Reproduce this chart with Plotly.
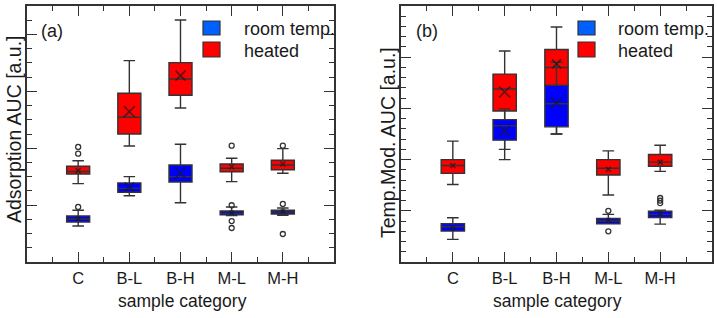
import plotly.graph_objects as go

# ---------------- data ----------------
CATS = ["C", "B-L", "B-H", "M-L", "M-H"]
SERIES = ["room temp.", "heated"]

# panel (a): Adsorption AUC (arbitrary units)
A_HEAT_LOWER = [5.51, 8.16, 10.83, 5.65, 6.24]
A_HEAT_Q1 = [6.19, 9.00, 11.72, 6.35, 6.49]
A_HEAT_MED = [6.36, 10.18, 12.87, 6.59, 6.82]
A_HEAT_Q3 = [6.73, 11.86, 14.02, 6.89, 7.15]
A_HEAT_UPPER = [7.12, 14.16, 17.02, 7.29, 7.97]
A_HEAT_MEAN = [6.42, 10.57, 13.10, 6.70, 6.89]
A_HEAT_OUT_CAT = ["C", "C", "M-L", "M-H"]
A_HEAT_OUT_VAL = [8.09, 7.62, 8.18, 8.18]

A_ROOM_LOWER = [2.53, 4.66, 4.17, 3.26, 3.28]
A_ROOM_Q1 = [2.81, 4.90, 5.63, 3.31, 3.38]
A_ROOM_MED = [3.02, 5.18, 6.00, 3.42, 3.52]
A_ROOM_Q3 = [3.23, 5.56, 6.82, 3.59, 3.64]
A_ROOM_UPPER = [3.64, 6.00, 8.28, 3.87, 3.80]
A_ROOM_MEAN = [3.07, 5.27, 6.24, 3.47, 3.56]
A_ROOM_OUT_CAT = ["C", "M-L", "M-L", "M-L", "M-H", "M-H"]
A_ROOM_OUT_VAL = [3.87, 3.99, 2.88, 2.39, 4.08, 1.97]

# panel (b): Temp.Mod. AUC (arbitrary units)
B_HEAT_LOWER = [1.515, 2.00, 2.50, 1.31, 1.77]
B_HEAT_Q1 = [1.73, 2.95, 3.45, 1.70, 1.87]
B_HEAT_MED = [1.885, 3.38, 3.80, 1.83, 1.95]
B_HEAT_Q3 = [2.00, 3.67, 4.15, 2.00, 2.10]
B_HEAT_UPPER = [2.36, 4.12, 4.59, 2.17, 2.28]
B_HEAT_MEAN = [1.885, 3.32, 3.87, 1.81, 1.95]
B_HEAT_OUT_CAT = []
B_HEAT_OUT_VAL = []

B_ROOM_LOWER = [0.442, 2.20, 2.50, 0.745, 0.74]
B_ROOM_Q1 = [0.604, 2.38, 2.64, 0.747, 0.87]
B_ROOM_MED = [0.688, 2.66, 3.09, 0.80, 0.93]
B_ROOM_Q3 = [0.747, 2.78, 3.45, 0.85, 0.99]
B_ROOM_UPPER = [0.864, 2.99, 3.90, 0.93, 1.01]
B_ROOM_MEAN = [0.657, 2.56, 3.11, 0.82, 0.95]
B_ROOM_OUT_CAT = ["M-L", "M-L", "M-H", "M-H", "M-H"]
B_ROOM_OUT_VAL = [1.00, 0.60, 1.25, 1.20, 1.15]

# ---------------- style ----------------
W, H = 717, 318
FONT = "Liberation Sans, Arial, sans-serif"
EDGE = "#333333"
MARK = "#1a1a1a"
TXT = "#1a1a1a"
RED = "#ff0000"
BLUE = "#0000ff"
BLUE_LEG = "#0060ff"
BOXW = 0.45
A_HEAT_XSIZE = [5, 11, 10, 5, 5]
A_ROOM_XSIZE = [4, 9, 11, 4, 4]
B_HEAT_XSIZE = [5, 11, 9, 5, 5]
B_ROOM_XSIZE = [4, 10, 11, 4, 4]

pos = {c: i for i, c in enumerate(CATS)}

fig = go.Figure()


def add_group(ax, ay, lo, q1, med, q3, up, mean, ocat, oval, fill, xsize, name):
    xs = list(range(len(CATS)))
    fig.add_trace(go.Box(
        x=xs, lowerfence=lo, q1=q1, median=med, q3=q3, upperfence=up,
        xaxis=ax, yaxis=ay, name=name, width=BOXW, whiskerwidth=0.5,
        fillcolor=fill, line=dict(color=EDGE, width=1.4),
        boxpoints=False, showlegend=False, hoverinfo="skip"))
    fig.add_trace(go.Scatter(
        x=xs, y=mean, xaxis=ax, yaxis=ay, mode="markers", showlegend=False,
        marker=dict(symbol="x-thin-open", size=xsize, color=MARK,
                    line=dict(color=MARK, width=1.6)), hoverinfo="skip"))
    if ocat:
        fig.add_trace(go.Scatter(
            x=[pos[c] for c in ocat], y=oval, xaxis=ax, yaxis=ay, mode="markers",
            showlegend=False,
            marker=dict(symbol="circle-open", size=5, color=EDGE,
                        line=dict(color=EDGE, width=1.3)), hoverinfo="skip"))


add_group("x", "y", A_HEAT_LOWER, A_HEAT_Q1, A_HEAT_MED, A_HEAT_Q3, A_HEAT_UPPER,
          A_HEAT_MEAN, A_HEAT_OUT_CAT, A_HEAT_OUT_VAL, RED, A_HEAT_XSIZE, SERIES[1])
add_group("x", "y", A_ROOM_LOWER, A_ROOM_Q1, A_ROOM_MED, A_ROOM_Q3, A_ROOM_UPPER,
          A_ROOM_MEAN, A_ROOM_OUT_CAT, A_ROOM_OUT_VAL, BLUE, A_ROOM_XSIZE, SERIES[0])
add_group("x2", "y2", B_HEAT_LOWER, B_HEAT_Q1, B_HEAT_MED, B_HEAT_Q3, B_HEAT_UPPER,
          B_HEAT_MEAN, B_HEAT_OUT_CAT, B_HEAT_OUT_VAL, RED, B_HEAT_XSIZE, SERIES[1])
add_group("x2", "y2", B_ROOM_LOWER, B_ROOM_Q1, B_ROOM_MED, B_ROOM_Q3, B_ROOM_UPPER,
          B_ROOM_MEAN, B_ROOM_OUT_CAT, B_ROOM_OUT_VAL, BLUE, B_ROOM_XSIZE, SERIES[0])


def px(x):
    return x / W


def py(y):
    return 1 - y / H


def xaxis(dom, anchor):
    return dict(domain=dom, anchor=anchor, range=[-1, 5],
                tickmode="array", tickvals=list(range(len(CATS))), ticktext=CATS,
                ticks="inside", ticklen=10, tickwidth=1.2, tickcolor=EDGE,
                minor=dict(tickmode="array",
                           tickvals=[i - 0.5 for i in range(len(CATS) + 1)],
                           ticks="inside", ticklen=5, tickwidth=1.2, tickcolor=EDGE),
                showline=True, linecolor=EDGE, linewidth=1.5, mirror="ticks",
                showgrid=False, zeroline=False,
                tickfont=dict(family=FONT, size=16.5, color=TXT))


def yaxis(anchor, rng, dtick, mdtick):
    return dict(domain=[py(262), py(6)], anchor=anchor, range=rng,
                tickmode="linear", tick0=0, dtick=dtick,
                ticks="inside", ticklen=10, tickwidth=1.2, tickcolor=EDGE,
                minor=dict(tickmode="linear", tick0=0, dtick=mdtick, ticks="inside",
                           ticklen=5, tickwidth=1.2, tickcolor=EDGE),
                showticklabels=False, showline=True, linecolor=EDGE, linewidth=1.5,
                mirror="ticks", showgrid=False, zeroline=False)


fig.update_layout(
    width=W, height=H, margin=dict(l=0, r=0, t=0, b=0),
    paper_bgcolor="white", plot_bgcolor="white", boxmode="overlay",
    showlegend=False,
    xaxis=xaxis([px(27), px(334)], "y"),
    yaxis=yaxis("x", [0, 18], 4, 1),
    xaxis2=xaxis([px(401), px(712)], "y2"),
    yaxis2=yaxis("x2", [0, 5], 1, 0.2),
)

ann = []
shapes = []
for (lab, lx, ytitle, yx, yy, sx, tx, cx) in [
        ("(a)", 39, "Adsorption AUC [a.u.]", 14, 129, 203, 242, 182),
        ("(b)", 414, "Temp.Mod. AUC [a.u.]", 388, 143, 578, 616, 557)]:
    ann.append(dict(text=lab, x=px(lx), y=py(31), xref="paper", yref="paper",
                    xanchor="left", yanchor="middle", showarrow=False,
                    font=dict(family=FONT, size=18, color=TXT)))
    ann.append(dict(text=ytitle, x=px(yx), y=py(yy), xref="paper", yref="paper",
                    xanchor="center", yanchor="middle", textangle=-90,
                    showarrow=False, font=dict(family=FONT, size=19.5, color=TXT)))
    ann.append(dict(text="sample category", x=px(cx), y=py(301), xref="paper",
                    yref="paper", xanchor="center", yanchor="middle",
                    showarrow=False, font=dict(family=FONT, size=17.5, color=TXT)))
    for (txt, col, y0, y1) in [(SERIES[0], BLUE_LEG, 21, 35), (SERIES[1], RED, 42, 57)]:
        shapes.append(dict(type="rect", xref="paper", yref="paper",
                           x0=px(sx), x1=px(sx + 17), y0=py(y1), y1=py(y0),
                           fillcolor=col, line=dict(color=EDGE, width=1.2)))
        ann.append(dict(text=txt, x=px(tx), y=py((y0 + y1) / 2 + 1), xref="paper",
                        yref="paper", xanchor="left", yanchor="middle",
                        showarrow=False, font=dict(family=FONT, size=18, color=TXT)))

fig.update_layout(annotations=ann, shapes=shapes)
fig.write_html("out.html")
